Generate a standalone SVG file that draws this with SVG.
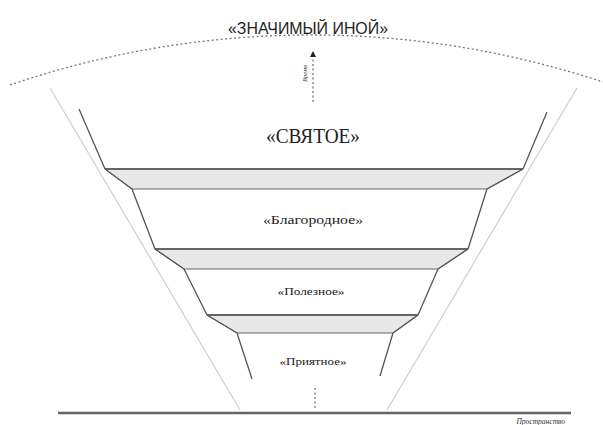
<svg xmlns="http://www.w3.org/2000/svg" width="603" height="425" viewBox="0 0 603 425">
<style>
.outer{stroke:#cfcfcf;stroke-width:1.2;fill:none}
.wall{stroke:#555;stroke-width:1.3;fill:none;stroke-linejoin:round}
.band{fill:#e8e8e8;stroke:#666;stroke-width:1}
.edge{stroke:#666;stroke-width:1.8}
.dot{stroke:#777;stroke-width:1.3;fill:none;stroke-dasharray:2 2.5}
.lbl{font-family:"Liberation Serif",serif;fill:#222;text-anchor:middle}
.small{font-family:"Liberation Serif",serif;font-style:italic;fill:#333}
</style>
<defs>
<marker id="ah" markerWidth="6" markerHeight="6" refX="3" refY="3" orient="auto" markerUnits="userSpaceOnUse">
<path d="M0,6 L3,0 L6,6 Z" fill="#222" transform="rotate(90 3 3)"/>
</marker>
</defs>
<rect width="603" height="425" fill="#fff"/>
<g id="title">
<text x="308" y="34" font-family="Liberation Sans, sans-serif" font-size="17" fill="#222" text-anchor="middle" textLength="160" lengthAdjust="spacingAndGlyphs">«ЗНАЧИМЫЙ ИНОЙ»</text>
</g>
<g id="horizon">
<path class="dot" d="M10,85 A930,930 0 0 1 603,82"/>
</g>
<g id="outer-lines">
<line class="outer" x1="50" y1="88" x2="240" y2="410"/>
<line class="outer" x1="577" y1="88" x2="387" y2="410"/>
</g>
<g id="funnel">
<polygon class="band" points="105,169 523,169 487,189 132,189"/>
<polygon class="band" points="155,249 468,249 438,269 184,269"/>
<polygon class="band" points="207,315 418,315 393,333 237,333"/>
<line class="edge" x1="105" y1="169" x2="523" y2="169"/>
<line class="edge" x1="155" y1="249" x2="468" y2="249"/>
<line class="edge" x1="207" y1="315" x2="418" y2="315"/>
<polyline class="wall" points="79,109 105,169 132,189 155,249 184,269 207,315 237,333 252,379"/>
<polyline class="wall" points="547,112 523,169 487,189 468,249 438,269 418,315 393,333 380,376"/>
</g>
<g id="labels">
<text class="lbl" x="313" y="143" font-size="20" textLength="94" lengthAdjust="spacingAndGlyphs">«СВЯТОЕ»</text>
<text class="lbl" x="313" y="224" font-size="13" textLength="100" lengthAdjust="spacingAndGlyphs">«Благородное»</text>
<text class="lbl" x="311" y="295" font-size="11" textLength="67" lengthAdjust="spacingAndGlyphs">«Полезное»</text>
<text class="lbl" x="313" y="365" font-size="10" textLength="67" lengthAdjust="spacingAndGlyphs">«Приятное»</text>
</g>
<g id="connectors">
<line class="dot" x1="313" y1="102" x2="313" y2="54" stroke-dasharray="1.5 2.5" marker-end="url(#ah)"/>
<line class="dot" x1="315" y1="388" x2="315" y2="410" stroke-dasharray="1.5 2.5"/>
<line x1="58" y1="413" x2="571" y2="413" stroke="#666" stroke-width="2.5"/>
</g>
<g id="axis-labels">
<text class="small" font-size="6.5" transform="translate(307,82) rotate(-90)">Время</text>
<text class="small" x="565" y="424" font-size="7.5" text-anchor="end">Пространство</text>
</g>
</svg>
